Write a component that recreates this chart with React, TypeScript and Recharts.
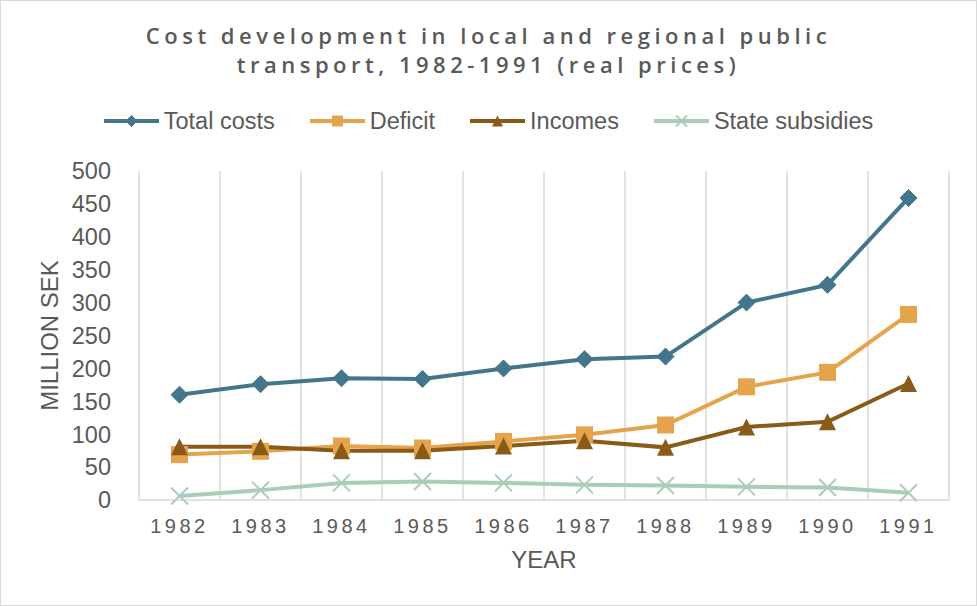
import React from 'react';
import { LineChart, Line, XAxis, YAxis, CartesianGrid } from 'recharts';

const years = ['1982', '1983', '1984', '1985', '1986', '1987', '1988', '1989', '1990', '1991'];
const totalCosts = [160, 176, 185, 184, 200, 214, 218, 300, 327, 459];
const deficit = [69, 74, 82, 79, 89, 99, 114, 172, 194, 282];
const incomes = [81, 81, 75, 75, 82, 90, 80, 111, 119, 177];
const stateSubsidies = [6, 15, 26, 28, 26, 23, 22, 20, 19, 11];
const yTicks = [0, 50, 100, 150, 200, 250, 300, 350, 400, 450, 500];

const data = years.map((y, i) => ({
  year: y,
  total: totalCosts[i],
  deficit: deficit[i],
  incomes: incomes[i],
  subsidies: stateSubsidies[i],
}));

const C_TOTAL = '#44768B';
const C_DEF = '#E5A44B';
const C_INC = '#8A5A19';
const C_SUB = '#A9CDB7';
const TEXT = '#595959';
const GRID = '#D9D9D9';
const FONT = '"Liberation Sans", Arial, sans-serif';

type Shape = 'diamond' | 'square' | 'triangle' | 'x';

function markerPath(shape: Shape, cx: number, cy: number, s: number, color: string, key?: any) {
  const h = s / 2;
  if (shape === 'diamond') {
    return <path key={key} d={`M${cx},${cy - h}L${cx + h},${cy}L${cx},${cy + h}L${cx - h},${cy}Z`} fill={color} stroke={color} strokeWidth={1} />;
  }
  if (shape === 'square') {
    return <rect key={key} x={cx - h} y={cy - h} width={s} height={s} fill={color} />;
  }
  if (shape === 'triangle') {
    return <path key={key} d={`M${cx},${cy - h}L${cx + h},${cy + h}L${cx - h},${cy + h}Z`} fill={color} />;
  }
  return (
    <g key={key}>
      <line x1={cx - h} y1={cy - h} x2={cx + h} y2={cy + h} stroke={color} strokeWidth={2} />
      <line x1={cx - h} y1={cy + h} x2={cx + h} y2={cy - h} stroke={color} strokeWidth={2} />
    </g>
  );
}

const makeDot = (shape: Shape, color: string) => (props: any) => {
  const { cx, cy, index } = props;
  if (cx == null || cy == null) return <g key={`d-${index}`} />;
  return markerPath(shape, cx, cy, 17, color, `d-${shape}-${index}`);
};

const legendItems: { name: string; color: string; shape: Shape }[] = [
  { name: 'Total costs', color: C_TOTAL, shape: 'diamond' },
  { name: 'Deficit', color: C_DEF, shape: 'square' },
  { name: 'Incomes', color: C_INC, shape: 'triangle' },
  { name: 'State subsidies', color: C_SUB, shape: 'x' },
];

const LegendBlock = () => (
  <div style={{ position: 'absolute', left: 0, top: 107, width: 977, height: 28, display: 'flex', justifyContent: 'center', alignItems: 'center', gap: 35, fontFamily: FONT, fontSize: 23.5, color: TEXT, zIndex: 1 }}>
    {legendItems.map((it) => (
      <div key={it.name} style={{ display: 'flex', alignItems: 'center' }}>
        <svg width={55} height={20} style={{ marginRight: 5 }}>
          <line x1={0} y1={10} x2={55} y2={10} stroke={it.color} strokeWidth={4} strokeLinecap="round" />
          {markerPath(it.shape, 27.5, 10, 11, it.color)}
        </svg>
        <span>{it.name}</span>
      </div>
    ))}
  </div>
);

// vertical grid lines sit on the category band boundaries
const bandBoundaries = ({ offset }: any) =>
  [...years.map((_, i) => i), years.length].map((i) => offset.left + (i * offset.width) / years.length);

export default function App() {
  return (
    <div style={{ position: 'absolute', left: 0, top: 0, width: 977, height: 606, background: '#fff' }}>
      <div style={{ position: 'absolute', left: 0, top: 0, width: 977, height: 606, boxSizing: 'border-box', border: '1px solid #D9D9D9', pointerEvents: 'none', zIndex: 2 }} />
      <div style={{ position: 'absolute', left: 0, top: 21, width: 977, textAlign: 'center', fontFamily: '"Open Sans", sans-serif', fontWeight: 600, fontSize: 22, letterSpacing: 4.5, lineHeight: '29px', color: TEXT, zIndex: 1 }}>
        Cost development in local and regional public
        <br />
        transport, 1982-1991 (real prices)
      </div>
      <LegendBlock />
      <div style={{ position: 'absolute', left: 0, top: 0 }}>
        <LineChart width={977} height={606} data={data} margin={{ top: 171, right: 28, bottom: 0, left: 0 }}>
          <CartesianGrid horizontal={false} stroke={GRID} strokeWidth={1.5} verticalCoordinatesGenerator={bandBoundaries} />
          <XAxis
            dataKey="year"
            scale="band"
            interval={0}
            height={106}
            axisLine={{ stroke: GRID, strokeWidth: 1.5 }}
            tickLine={false}
            tickSize={0}
            tickMargin={19}
            tick={{ fill: TEXT, fontSize: 20, fontFamily: FONT, letterSpacing: 3.5 }}
            label={{ value: 'YEAR', position: 'insideBottom', offset: 38, fill: TEXT, fontSize: 24, fontFamily: FONT }}
          />
          <YAxis
            width={139}
            domain={[0, 500]}
            ticks={yTicks}
            interval={0}
            axisLine={false}
            tickLine={false}
            tickSize={0}
            tickMargin={28}
            tick={{ fill: TEXT, fontSize: 23.5, fontFamily: FONT }}
            label={{ value: 'MILLION SEK', angle: -90, position: 'insideLeft', offset: 49.5, fill: TEXT, fontSize: 24, fontFamily: FONT, style: { textAnchor: 'middle' } }}
          />
          <Line dataKey="total" name="Total costs" stroke={C_TOTAL} strokeWidth={4} dot={makeDot('diamond', C_TOTAL)} activeDot={false} isAnimationActive={false} />
          <Line dataKey="deficit" name="Deficit" stroke={C_DEF} strokeWidth={4} dot={makeDot('square', C_DEF)} activeDot={false} isAnimationActive={false} />
          <Line dataKey="incomes" name="Incomes" stroke={C_INC} strokeWidth={4} dot={makeDot('triangle', C_INC)} activeDot={false} isAnimationActive={false} />
          <Line dataKey="subsidies" name="State subsidies" stroke={C_SUB} strokeWidth={4} dot={makeDot('x', C_SUB)} activeDot={false} isAnimationActive={false} />
        </LineChart>
      </div>
    </div>
  );
}
